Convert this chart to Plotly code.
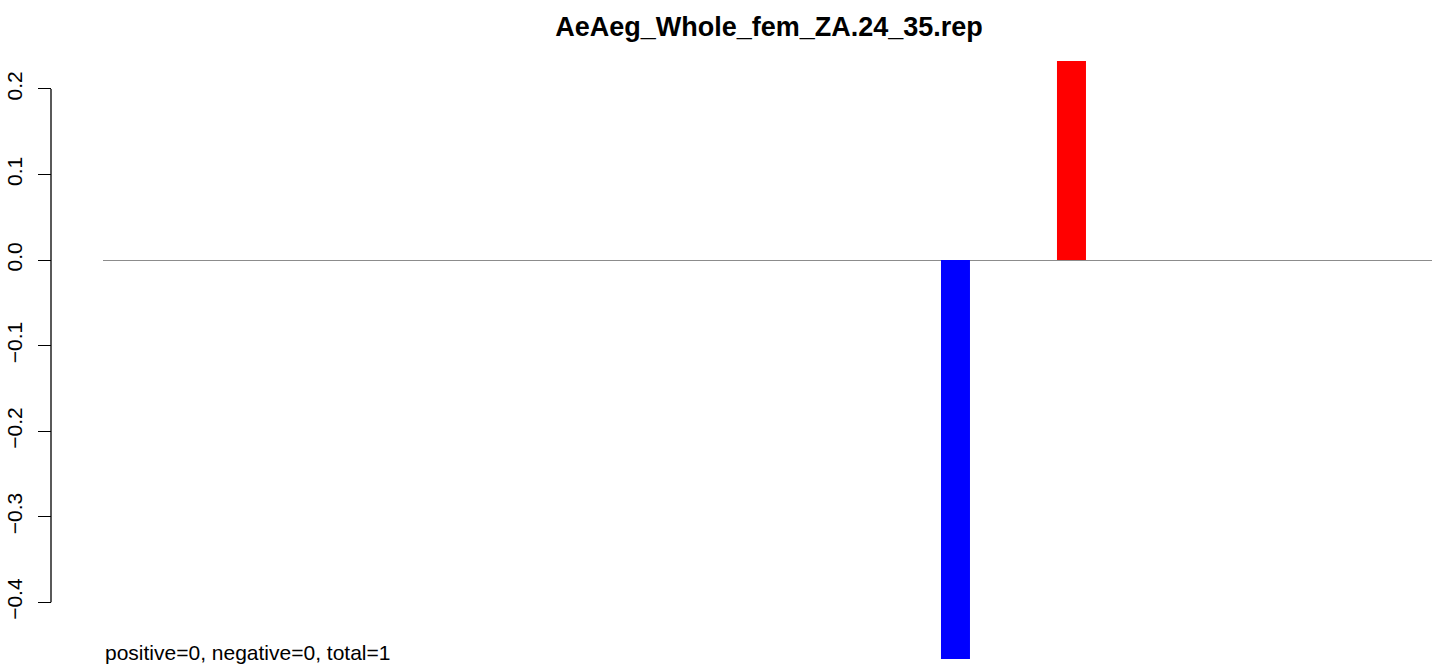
import plotly.graph_objects as go

# bar bins, only two of them carry a value
bins = list(range(1, 23))
values = [0.0] * 22
values[14] = -0.4663   # bin 15
values[16] = 0.2327    # bin 17

title = "AeAeg_Whole_fem_ZA.24_35.rep"
note = "positive=0, negative=0, total=1"
ytick_vals = [-0.4, -0.3, -0.2, -0.1, 0.0, 0.1, 0.2]

colors = ["#FF0000" if v > 0 else "#0000FF" for v in values]

W, H = 1439, 666
ml, mr, mt, mb = 51, 7, 61, 7
plot_w = W - ml - mr
plot_h = H - mt - mb
x_start = (103 - ml) / plot_w

fig = go.Figure(go.Bar(
    x=bins, y=values, width=0.5,
    marker=dict(color=colors, line=dict(width=0)),
    hoverinfo="x+y", showlegend=False,
))

# R-style axis line that only spans the tick range
fig.add_shape(type="line", xref="paper", yref="y",
              x0=0, x1=0, y0=min(ytick_vals), y1=max(ytick_vals),
              line=dict(color="black", width=1.3))

fig.add_annotation(text=note, xref="paper", yref="paper",
                   x=(103 - ml) / plot_w, y=(659 - 652) / plot_h,
                   xanchor="left", yanchor="middle", showarrow=False,
                   font=dict(size=21, color="black"))

fig.update_layout(
    width=W, height=H,
    margin=dict(l=ml, r=mr, t=mt, b=mb, autoexpand=False),
    paper_bgcolor="white", plot_bgcolor="white",
    font=dict(family="Liberation Sans, Arial, sans-serif", color="black"),
    title=dict(text="<b>" + title + "</b>", x=(769 - ml) / plot_w, xref="paper",
               xanchor="center", y=1 - 27 / H, yanchor="middle",
               font=dict(size=27, color="black")),
    xaxis=dict(domain=[x_start, 1], range=[0.302, 23.216], visible=False),
    yaxis=dict(anchor="free", position=0, automargin=False,
               range=[min(values), max(values)],
               tickvals=ytick_vals, tickformat=".1f", tickangle=-90,
               ticks="outside", ticklen=13, tickwidth=1.3, tickcolor="black",
               ticklabelstandoff=8,
               tickfont=dict(size=21, color="black"),
               showgrid=False, showline=False,
               zeroline=True, zerolinecolor="#8c8c8c", zerolinewidth=1.3),
)

# drop the default page margin so the figure sits at the window's corner
fig.write_html("out.html", config={"displayModeBar": False},
               post_script="document.body.style.margin='0';")
